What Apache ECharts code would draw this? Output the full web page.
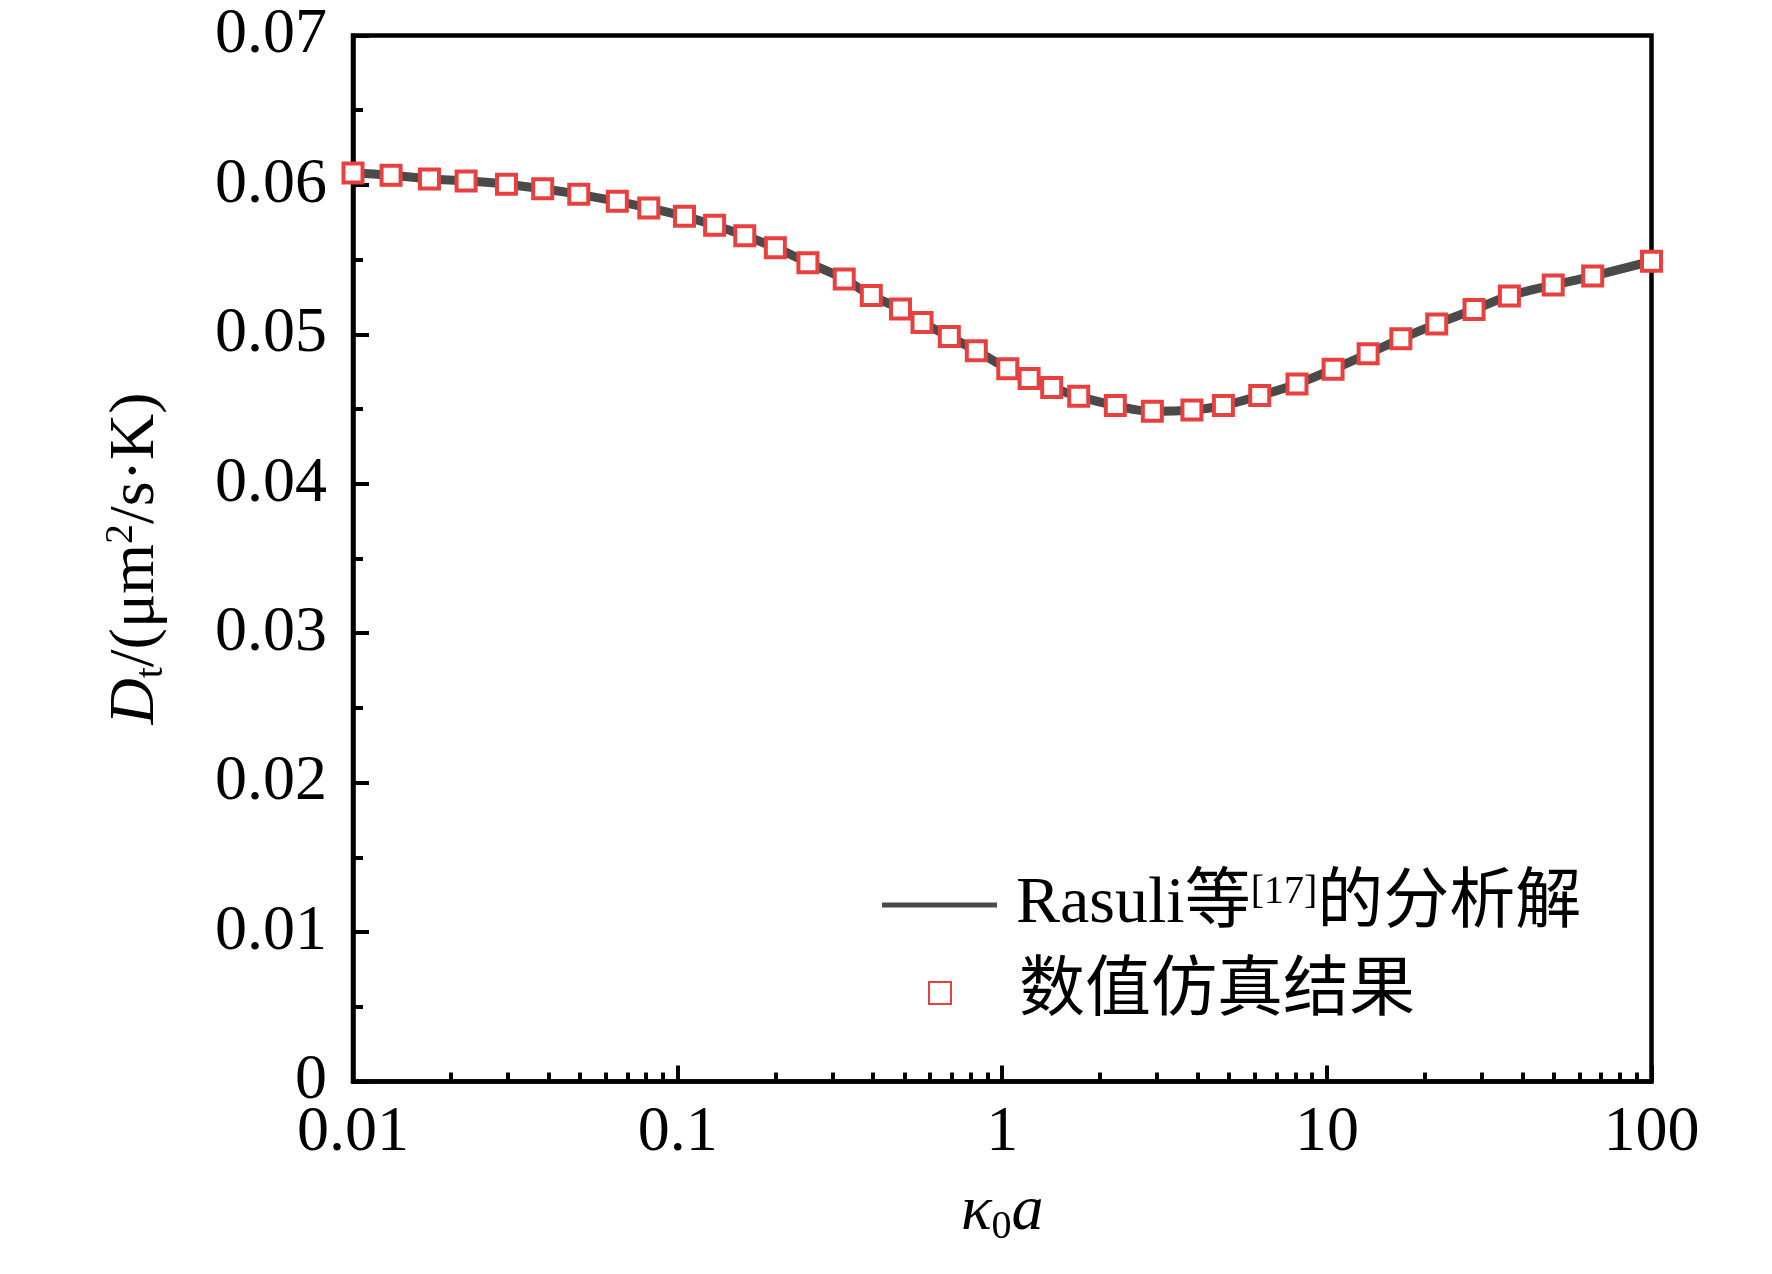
<!DOCTYPE html>
<html>
<head>
<meta charset="utf-8">
<title>Dt vs k0a</title>
<script src="https://cdn.jsdelivr.net/npm/echarts@6/dist/echarts.min.js"></script>
<style>
  html, body { margin: 0; padding: 0; background: #fff; }
  #chart { width: 1772px; height: 1274px; }
</style>
</head>
<body>
<div id="chart"></div>
<script>
// kappa_0 * a (log axis) and thermodiffusion coefficient D_t
var kappaA = [0.01, 0.0131, 0.0172, 0.0223, 0.0297, 0.0384, 0.0496, 0.0652, 0.0815, 0.105,
  0.13, 0.161, 0.2, 0.252, 0.326, 0.395, 0.486, 0.566, 0.687, 0.832,
  1.04, 1.21, 1.42, 1.72, 2.23, 2.9, 3.84, 4.8, 6.21, 8.09,
  10.45, 13.4, 16.9, 21.8, 28.4, 36.5, 49.8, 65.9, 100];

var dtSim = [0.0608, 0.06065, 0.0604, 0.06027, 0.06005, 0.05974, 0.05937, 0.0589, 0.05846, 0.0579,
  0.0573, 0.0566, 0.0558, 0.0548, 0.0537, 0.0526, 0.0517, 0.0508, 0.04985, 0.0489,
  0.0477, 0.04705, 0.04645, 0.04585, 0.04524, 0.04486, 0.04494, 0.04524, 0.0459, 0.04668,
  0.04766, 0.0487, 0.0497, 0.0507, 0.05166, 0.05257, 0.0533, 0.0539, 0.0549];

// analytical curve (Rasuli et al.) follows the simulated points
var dtAnalytic = dtSim.slice();

var seriesNames = ['Rasuli等[17]的分析解', '数值仿真结果'];
var xMajorTicks = [0.01, 0.1, 1, 10, 100];
var yTickLabels = ['0', '0.01', '0.02', '0.03', '0.04', '0.05', '0.06', '0.07'];

// log minor ticks (2..9 per decade), placed on a helper value axis in log10 space
var xMinorTicks = [];
for (var d = -2; d < 2; d++) {
  for (var m = 2; m <= 9; m++) {
    xMinorTicks.push(d + Math.log10(m));
  }
}

var SERIF = "'Liberation Serif', 'Times New Roman', serif";
var MIXED = "'Liberation Serif', 'Noto Sans CJK SC', serif";

function pairs(xs, ys) {
  return xs.map(function (x, i) { return [x, ys[i]]; });
}

// legend text; the lead token carries the gap between icon and text
function legendText(gap) {
  return {
    fontFamily: MIXED, fontSize: 66, color: '#000', lineHeight: 74,
    rich: {
      lead: { fontFamily: MIXED, fontSize: 66, color: '#000', lineHeight: 74, padding: [0, 0, 0, gap] },
      t: { fontFamily: MIXED, fontSize: 66, color: '#000', lineHeight: 74 },
      sup: { fontFamily: SERIF, fontSize: 40, color: '#000', lineHeight: 44, verticalAlign: 'top', padding: [4, 0, 0, 0] }
    }
  };
}

function legendFormatter(name) {
  if (name === seriesNames[0]) {
    return '{lead|Rasuli等}{sup|[17]}{t|的分析解}';
  }
  return '{lead|' + name + '}';
}

var chart = echarts.init(document.getElementById('chart'), null, { renderer: 'canvas' });

var option = {
  backgroundColor: '#fff',
  animation: false,
  grid: {
    left: 353, top: 35.5, width: 1298.5, height: 1046,
    show: true, borderColor: '#000', borderWidth: 4.5, backgroundColor: 'transparent'
  },
  legend: [{
    left: 877, top: 863,
    itemWidth: 115, itemHeight: 5,
    data: [{ name: seriesNames[0], icon: 'rect' }],
    textStyle: legendText(14),
    formatter: legendFormatter
  }, {
    left: 923, top: 951,
    itemWidth: 22, itemHeight: 22,
    data: [{ name: seriesNames[1], icon: 'rect' }],
    textStyle: legendText(63),
    formatter: legendFormatter
  }],
  xAxis: [{
    type: 'log',
    logBase: 10,
    min: 0.01,
    max: 100,
    name: '{i|κ}{sub|0}{i|a}',
    nameLocation: 'middle',
    nameGap: 96,
    nameTextStyle: {
      rich: {
        i: { fontFamily: SERIF, fontStyle: 'italic', fontSize: 64, color: '#000', lineHeight: 70 },
        sub: { fontFamily: SERIF, fontSize: 40, color: '#000', lineHeight: 70, verticalAlign: 'bottom' }
      }
    },
    axisLine: { show: true, onZero: false, lineStyle: { color: '#000', width: 4.5 } },
    axisTick: { show: true, inside: true, length: 16, lineStyle: { color: '#000', width: 4 } },
    minorTick: { show: false },
    splitLine: { show: false },
    axisLabel: {
      margin: 20,
      fontFamily: SERIF, fontSize: 64, color: '#000',
      formatter: function (v) {
        var best = xMajorTicks[0];
        xMajorTicks.forEach(function (t) {
          if (Math.abs(Math.log10(t) - Math.log10(v)) < Math.abs(Math.log10(best) - Math.log10(v))) best = t;
        });
        return String(best);
      }
    }
  }, {
    type: 'value',
    min: -2,
    max: 2,
    position: 'bottom',
    axisLine: { show: false, onZero: false },
    axisLabel: { show: false },
    splitLine: { show: false },
    axisTick: {
      show: true, inside: true, length: 9,
      customValues: xMinorTicks,
      lineStyle: { color: '#000', width: 4 }
    }
  }],
  yAxis: {
    type: 'value',
    min: 0,
    max: 0.07,
    interval: 0.01,
    position: 'left',
    name: '{i|D}{sub|t}{n|/(μm}{sup|2}{n|/s·K)}',
    nameLocation: 'middle',
    nameRotate: 90,
    nameGap: 182,
    nameTextStyle: {
      rich: {
        i: { fontFamily: SERIF, fontStyle: 'italic', fontSize: 64, color: '#000', lineHeight: 70 },
        n: { fontFamily: SERIF, fontSize: 64, color: '#000', lineHeight: 70 },
        sub: { fontFamily: SERIF, fontSize: 40, color: '#000', lineHeight: 70, verticalAlign: 'bottom' },
        sup: { fontFamily: SERIF, fontSize: 40, color: '#000', lineHeight: 40, verticalAlign: 'top' }
      }
    },
    axisLine: { show: true, onZero: false, lineStyle: { color: '#000', width: 4.5 } },
    axisTick: { show: true, inside: true, length: 16, lineStyle: { color: '#000', width: 4 } },
    minorTick: { show: true, splitNumber: 2, length: 10, lineStyle: { color: '#000', width: 4 } },
    splitLine: { show: false },
    minorSplitLine: { show: false },
    axisLabel: {
      margin: 26,
      fontFamily: SERIF, fontSize: 64, color: '#000',
      formatter: function (v) {
        return yTickLabels[Math.round(v / 0.01)];
      }
    }
  },
  series: [{
    name: seriesNames[0],
    type: 'line',
    xAxisIndex: 0,
    data: pairs(kappaA, dtAnalytic),
    smooth: 0.4,
    symbol: 'none',
    lineStyle: { color: '#4a4a4a', width: 9 },
    itemStyle: { color: '#4a4a4a' },
    z: 2
  }, {
    name: seriesNames[1],
    type: 'scatter',
    xAxisIndex: 0,
    data: pairs(kappaA, dtSim),
    symbol: 'rect',
    symbolSize: 19,
    itemStyle: { color: '#fff', opacity: 1, borderColor: '#e8403f', borderWidth: 4 },
    z: 3
  }]
};

chart.setOption(option);
</script>
</body>
</html>
